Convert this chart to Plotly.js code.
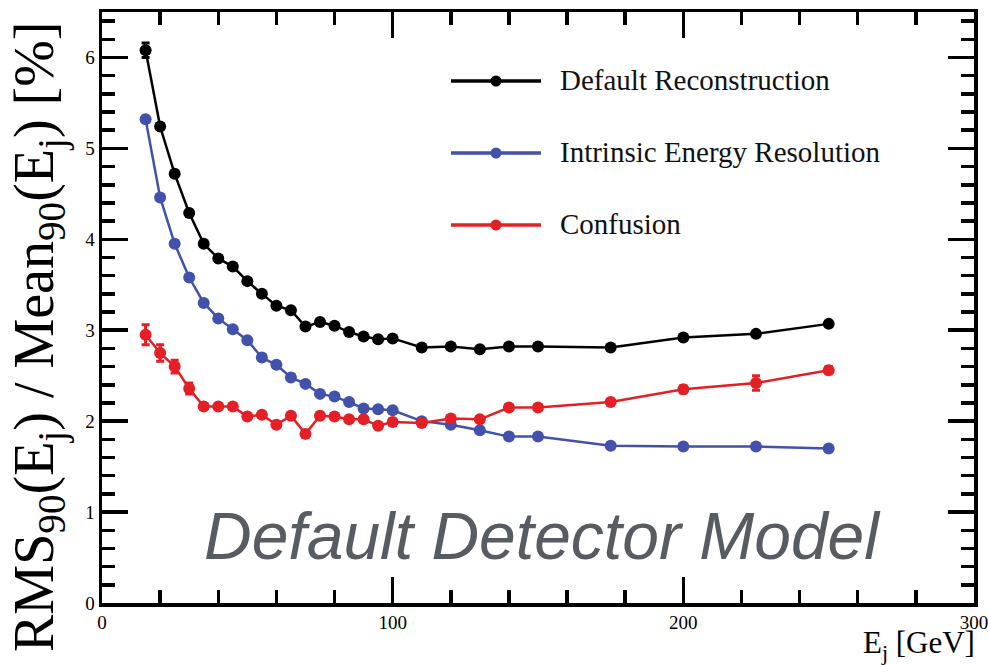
<!DOCTYPE html>
<html>
<head>
<meta charset="utf-8">
<script src="https://cdn.plot.ly/plotly-3.0.1.min.js"></script>
<style>
  html, body { margin: 0; padding: 0; background: #ffffff; }
  #chart { width: 988px; height: 665px; }
</style>
</head>
<body>
<div id="chart"></div>
<script>
// Jet energy (GeV)
const energy = [15, 20, 25, 30, 35, 40, 45, 50, 55, 60, 65, 70, 75, 80, 85, 90, 95, 100,
                110, 120, 130, 140, 150, 175, 200, 225, 250];

// RMS90 / Mean90 [%]
const defaultReco = [6.08, 5.24, 4.72, 4.29, 3.95, 3.79, 3.70, 3.54, 3.40, 3.27, 3.22, 3.04, 3.09, 3.05,
                     2.98, 2.93, 2.90, 2.91, 2.81, 2.82, 2.79, 2.82, 2.82, 2.81, 2.92, 2.96, 3.07];
const defaultRecoErr = [0.08, 0.03, 0.03, 0.03, 0.02, 0.02, 0.02, 0.02, 0.02, 0.02, 0.02, 0.02, 0.02, 0.02,
                        0.02, 0.02, 0.02, 0.02, 0.02, 0.02, 0.02, 0.02, 0.02, 0.02, 0.02, 0.02, 0.02];

const intrinsic = [5.32, 4.46, 3.95, 3.58, 3.30, 3.13, 3.01, 2.89, 2.70, 2.62, 2.48, 2.41, 2.30, 2.27,
                   2.21, 2.14, 2.13, 2.12, 2.00, 1.96, 1.90, 1.83, 1.83, 1.73, 1.72, 1.72, 1.70];
const intrinsicErr = [0.03, 0.02, 0.02, 0.02, 0.02, 0.02, 0.02, 0.02, 0.02, 0.02, 0.02, 0.02, 0.02, 0.02,
                      0.02, 0.02, 0.02, 0.02, 0.02, 0.02, 0.02, 0.02, 0.02, 0.02, 0.02, 0.02, 0.02];

const confusion = [2.95, 2.75, 2.60, 2.36, 2.16, 2.16, 2.16, 2.05, 2.07, 1.96, 2.06, 1.86, 2.06, 2.05,
                   2.02, 2.02, 1.95, 1.99, 1.98, 2.03, 2.02, 2.15, 2.15, 2.21, 2.35, 2.42, 2.56];
const confusionErr = [0.11, 0.09, 0.07, 0.06, 0.03, 0.03, 0.03, 0.03, 0.03, 0.03, 0.03, 0.04, 0.03, 0.03,
                      0.03, 0.03, 0.03, 0.03, 0.03, 0.03, 0.03, 0.03, 0.03, 0.03, 0.04, 0.08, 0.04];

const seriesNames = ["Default Reconstruction", "Intrinsic Energy Resolution", "Confusion"];
const seriesColors = ["#000000", "#4151ac", "#e41f25"];

const xTickVals = [0, 100, 200, 300];
const yTickVals = [0, 1, 2, 3, 4, 5, 6];

const SERIF = "Liberation Serif, Times New Roman, serif";

function series(y, err, i) {
  return {
    x: energy, y: y, name: seriesNames[i], type: "scatter", mode: "lines+markers",
    line: { color: seriesColors[i], width: 2.5 },
    marker: { color: seriesColors[i], size: 12 },
    error_y: { type: "data", array: err, visible: true, color: seriesColors[i], thickness: 3, width: 4 },
    showlegend: false
  };
}

const data = [
  series(intrinsic, intrinsicErr, 1),
  series(confusion, confusionErr, 2),
  series(defaultReco, defaultRecoErr, 0)
];

// plot frame in pixels, used to place the hand-built legend
const L = 102, R = 14, T = 12, B = 62, W = 988, H = 665;
const pw = W - L - R, ph = H - T - B;
const px = v => (v - L) / pw;
const py = v => (H - B - v) / ph;

const shapes = [];
const annotations = [];
const rowY = [81, 153, 225];
seriesNames.forEach((name, i) => {
  const c = seriesColors[i];
  shapes.push({ type: "line", xref: "paper", yref: "paper",
    x0: px(451), x1: px(541), y0: py(rowY[i]), y1: py(rowY[i]),
    line: { color: c, width: 3.5 } });
  shapes.push({ type: "circle", xref: "paper", yref: "paper",
    xsizemode: "pixel", ysizemode: "pixel", xanchor: px(496), yanchor: py(rowY[i]),
    x0: -5.5, x1: 5.5, y0: -5.5, y1: 5.5,
    fillcolor: c, line: { color: c, width: 0 } });
  annotations.push({ xref: "paper", yref: "paper", x: px(558), y: py(rowY[i] - 1),
    xanchor: "left", yanchor: "middle", showarrow: false, text: name,
    font: { family: SERIF, size: 29, color: "#111111" } });
});

annotations.push({
  xref: "paper", yref: "paper", x: px(542), y: py(536), xanchor: "center", yanchor: "middle",
  showarrow: false, text: "<i>Default Detector Model</i>",
  font: { family: "Liberation Sans, Arial, sans-serif", size: 66, color: "#575c63" }
});

annotations.push({
  xref: "paper", yref: "paper", x: px(38), y: py(337), xanchor: "center", yanchor: "middle",
  textangle: -90, showarrow: false,
  text: "RMS<sub>90</sub>(E<sub>j</sub>) / Mean<sub>90</sub>(E<sub>j</sub>) [%]",
  font: { family: SERIF, size: 56, color: "#000000" }
});

annotations.push({
  xref: "paper", yref: "paper", x: px(977), y: py(645), xanchor: "right", yanchor: "middle",
  showarrow: false, text: "E<sub>j</sub> [GeV]",
  font: { family: SERIF, size: 31, color: "#000000" }
});

const axisCommon = {
  showline: true, linecolor: "#000000", linewidth: 3.5, mirror: "allticks",
  ticks: "inside", ticklen: 26, tickwidth: 3.5, tickcolor: "#000000",
  showgrid: false, zeroline: false, ticklabeloverflow: "allow",
  tickfont: { family: SERIF, size: 19, color: "#000000" },
  fixedrange: true
};

const layout = {
  width: W, height: H,
  margin: { l: L, r: R, t: T, b: B },
  paper_bgcolor: "#ffffff", plot_bgcolor: "#ffffff",
  showlegend: false,
  xaxis: Object.assign({}, axisCommon, {
    range: [0, 300], tickmode: "array", tickvals: xTickVals,
    minor: { dtick: 20, ticks: "inside", ticklen: 13, tickwidth: 3.5, tickcolor: "#000000", showgrid: false }
  }),
  yaxis: Object.assign({}, axisCommon, {
    range: [0, 6.5], tickmode: "array", tickvals: yTickVals,
    minor: { dtick: 0.2, ticks: "inside", ticklen: 13, tickwidth: 3.5, tickcolor: "#000000", showgrid: false }
  }),
  shapes: shapes,
  annotations: annotations
};

Plotly.newPlot("chart", data, layout, { displayModeBar: false, staticPlot: true });
</script>
</body>
</html>
